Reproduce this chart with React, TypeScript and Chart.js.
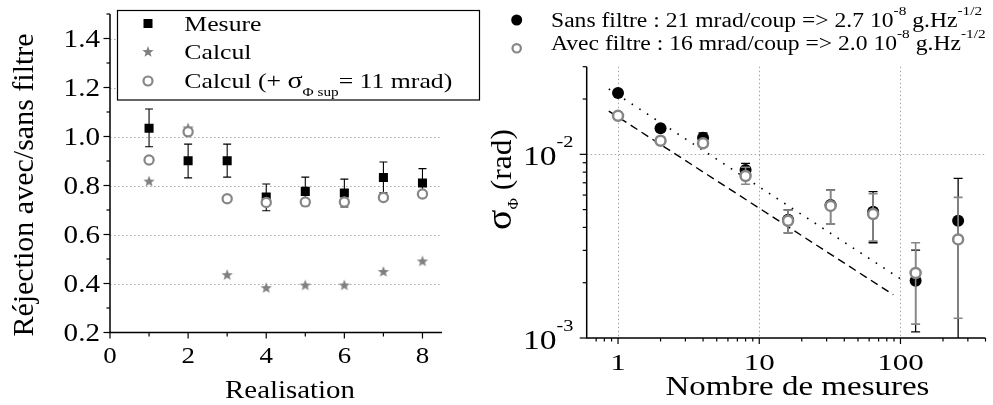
import React, { useEffect, useRef } from 'react';
import { Chart, registerables } from 'chart.js';
Chart.register(...registerables);

const FONT = '"Liberation Serif", "Times New Roman", serif';
const GRAY = '#868686';
const GRID = '#a6a6a6';

// ---------- Left panel data ----------
const realisation = [1, 2, 3, 4, 5, 6, 7, 8];
const mesure = [1.034, 0.901, 0.901, 0.753, 0.776, 0.769, 0.833, 0.81];
const mesureLow = [0.958, 0.831, 0.834, 0.697, 0.718, 0.712, 0.77, 0.751];
const mesureHigh = [1.112, 0.969, 0.969, 0.806, 0.834, 0.826, 0.896, 0.869];
const calcul = [0.816, 1.033, 0.434, 0.381, 0.392, 0.392, 0.447, 0.49];
const calculSup = [0.904, 1.019, 0.746, 0.731, 0.733, 0.733, 0.751, 0.765];
const leftYTicks = [0.2, 0.4, 0.6, 0.8, 1.0, 1.2, 1.4];
const leftYMinor = [0.3, 0.5, 0.7, 0.9, 1.1, 1.3, 1.5];
const leftYGrid = [0.4, 0.6, 0.8, 1.0, 1.2, 1.4];
const leftXTicks = [0, 2, 4, 6, 8];
const leftXMinor = [1, 3, 5, 7];

// ---------- Right panel data ----------
const nombre = [1, 2, 4, 8, 16, 32, 64, 128, 256];
const sansFiltre = [0.0216, 0.01386, 0.0123, 0.00822, 0.0044, 0.0053, 0.00487, 0.00205, 0.00435];
const sansLow = [null, null, 0.0119, 0.0077, 0.00374, 0.00418, 0.0033, 0.00108, 0.0008];
const sansHigh = [null, null, 0.0131, 0.00893, 0.00498, 0.0064, 0.00627, 0.00301, 0.0074];
const avecFiltre = [0.0162, 0.01186, 0.01148, 0.00762, 0.00435, 0.00524, 0.00473, 0.00226, 0.00344];
const avecLow = [null, null, null, 0.00687, 0.00374, 0.00418, 0.00337, 0.00119, 0.00128];
const avecHigh = [null, null, null, 0.0085, 0.00498, 0.0064, 0.0061, 0.0033, 0.00583];
const fitSansX = [0.86, 100];
const fitSansY = [0.0227, 0.0021];
const fitAvecX = [0.86, 89];
const fitAvecY = [0.0172, 0.00172];
const rightXMajor = [1, 10, 100];
const rightXLabels = ['1', '10', '100'];
const rightXMinor = [0.7, 0.8, 0.9, 2, 3, 4, 5, 6, 7, 8, 9, 20, 30, 40, 50, 60, 70, 80, 90, 200, 300, 400];
const rightYMajor = [0.001, 0.01];
const rightYExp = ['-3', '-2'];
const rightYMinor = [0.002, 0.003, 0.004, 0.005, 0.006, 0.007, 0.008, 0.009, 0.02, 0.03];
const rightXGrid = [1, 10, 100];
const rightYGrid = [0.01];

type Run = { t: string; size: number; dy?: number };

function drawText(
  ctx: CanvasRenderingContext2D,
  runs: Run[],
  x: number,
  y: number,
  opts: { align?: 'left' | 'center' | 'right'; sx?: number; rot?: boolean; color?: string } = {}
) {
  const sx = opts.sx ?? 1;
  const ws = runs.map((r) => {
    ctx.font = `${r.size}px ${FONT}`;
    return ctx.measureText(r.t).width;
  });
  const total = ws.reduce((a, b) => a + b, 0);
  ctx.save();
  ctx.translate(x, y);
  if (opts.rot) ctx.rotate(-Math.PI / 2);
  ctx.scale(sx, 1);
  let cx = opts.align === 'center' ? -total / 2 : opts.align === 'right' ? -total : 0;
  ctx.fillStyle = opts.color ?? '#000';
  ctx.textAlign = 'left';
  ctx.textBaseline = 'alphabetic';
  runs.forEach((r, i) => {
    ctx.font = `${r.size}px ${FONT}`;
    ctx.fillText(r.t, cx, r.dy ?? 0);
    cx += ws[i];
  });
  ctx.restore();
}

function drawErr(chart: any, xs: number[], lows: (number | null)[], highs: (number | null)[], color: string, cap: number, lw: number) {
  const { ctx, chartArea: a, scales } = chart;
  const xS = scales.x;
  const yS = scales.y;
  ctx.save();
  ctx.beginPath();
  ctx.rect(a.left, a.top - 30, a.right - a.left, a.bottom - a.top + 30);
  ctx.clip();
  ctx.strokeStyle = color;
  ctx.lineWidth = lw;
  xs.forEach((xv, i) => {
    const lo = lows[i];
    const hi = highs[i];
    if (lo == null || hi == null) return;
    const px = xS.getPixelForValue(xv);
    const yl = yS.getPixelForValue(lo);
    const yh = yS.getPixelForValue(hi);
    ctx.beginPath();
    ctx.moveTo(px, yl);
    ctx.lineTo(px, yh);
    ctx.moveTo(px - cap, yh);
    ctx.lineTo(px + cap, yh);
    ctx.moveTo(px - cap, yl);
    ctx.lineTo(px + cap, yl);
    ctx.stroke();
  });
  ctx.restore();
}

function makeStar(color: string, r: number): HTMLCanvasElement {
  const c = document.createElement('canvas');
  const s = Math.ceil(r * 2 + 2);
  c.width = s;
  c.height = s;
  const g = c.getContext('2d')!;
  g.fillStyle = color;
  g.beginPath();
  for (let i = 0; i < 10; i++) {
    const rr = i % 2 === 0 ? r : r * 0.42;
    const ang = -Math.PI / 2 + (i * Math.PI) / 5;
    const px = s / 2 + rr * Math.cos(ang);
    const py = s / 2 + rr * Math.sin(ang);
    if (i === 0) g.moveTo(px, py);
    else g.lineTo(px, py);
  }
  g.closePath();
  g.fill();
  return c;
}

function axisLines(ctx: CanvasRenderingContext2D, a: any) {
  ctx.save();
  ctx.strokeStyle = '#000';
  ctx.lineWidth = 1.5;
  ctx.beginPath();
  ctx.moveTo(a.left, a.top);
  ctx.lineTo(a.left, a.bottom);
  ctx.lineTo(a.right, a.bottom);
  ctx.stroke();
  ctx.restore();
}

function ticksY(ctx: CanvasRenderingContext2D, yS: any, a: any, vals: number[], len: number) {
  ctx.save();
  ctx.strokeStyle = '#000';
  ctx.lineWidth = 1.2;
  vals.forEach((v) => {
    const py = yS.getPixelForValue(v);
    ctx.beginPath();
    ctx.moveTo(a.left - len, py);
    ctx.lineTo(a.left, py);
    ctx.stroke();
  });
  ctx.restore();
}

function ticksX(ctx: CanvasRenderingContext2D, xS: any, a: any, vals: number[], len: number) {
  ctx.save();
  ctx.strokeStyle = '#000';
  ctx.lineWidth = 1.2;
  vals.forEach((v) => {
    const px = xS.getPixelForValue(v);
    ctx.beginPath();
    ctx.moveTo(px, a.bottom);
    ctx.lineTo(px, a.bottom + len);
    ctx.stroke();
  });
  ctx.restore();
}

function gridH(ctx: CanvasRenderingContext2D, yS: any, a: any, vals: number[]) {
  ctx.save();
  ctx.strokeStyle = GRID;
  ctx.lineWidth = 1;
  ctx.setLineDash([1.5, 2.5]);
  vals.forEach((v) => {
    const py = Math.round(yS.getPixelForValue(v)) + 0.5;
    ctx.beginPath();
    ctx.moveTo(a.left, py);
    ctx.lineTo(a.right, py);
    ctx.stroke();
  });
  ctx.restore();
}

function gridV(ctx: CanvasRenderingContext2D, xS: any, a: any, vals: number[]) {
  ctx.save();
  ctx.strokeStyle = GRID;
  ctx.lineWidth = 1;
  ctx.setLineDash([1.5, 2.5]);
  vals.forEach((v) => {
    const px = Math.round(xS.getPixelForValue(v)) + 0.5;
    ctx.beginPath();
    ctx.moveTo(px, a.top);
    ctx.lineTo(px, a.bottom);
    ctx.stroke();
  });
  ctx.restore();
}

export default function App() {
  const leftRef = useRef<HTMLCanvasElement>(null);
  const rightRef = useRef<HTMLCanvasElement>(null);

  useEffect(() => {
    const star = makeStar('#808080', 6);

    const leftPlugin = {
      id: 'leftDecor',
      beforeDatasetsDraw(chart: any) {
        gridH(chart.ctx, chart.scales.y, chart.chartArea, leftYGrid);
      },
      beforeDatasetDraw(chart: any, args: any) {
        if (args.index === 0) drawErr(chart, realisation, mesureLow, mesureHigh, '#000', 4, 1.1);
      },
      afterDraw(chart: any) {
        const { ctx, chartArea: a, scales } = chart;
        const xS = scales.x;
        const yS = scales.y;
        axisLines(ctx, a);
        ticksY(ctx, yS, a, leftYTicks, 6.5);
        ticksY(ctx, yS, a, leftYMinor, 3.5);
        ticksX(ctx, xS, a, leftXTicks, 6);
        ticksX(ctx, xS, a, leftXMinor, 4);
        leftYTicks.forEach((v) => {
          drawText(ctx, [{ t: v.toFixed(1), size: 26 }], 100, yS.getPixelForValue(v) + 8.8, { align: 'right', sx: 1.12 });
        });
        leftXTicks.forEach((v) => {
          drawText(ctx, [{ t: String(v), size: 24 }], xS.getPixelForValue(v), 362.7, { align: 'center', sx: 1.12 });
        });
        drawText(ctx, [{ t: 'Realisation', size: 26 }], 290, 397.5, { align: 'center', sx: 1.11 });
        drawText(ctx, [{ t: 'Réjection avec/sans filtre', size: 30 }], 33.3, 185, { align: 'center', rot: true });
        // legend box
        ctx.save();
        ctx.fillStyle = '#fff';
        ctx.fillRect(117.5, 10.5, 362, 89.5);
        ctx.strokeStyle = '#000';
        ctx.lineWidth = 1.2;
        ctx.strokeRect(117.5, 10.5, 362, 89.5);
        ctx.fillStyle = '#000';
        ctx.fillRect(148 - 4.5, 23.5 - 4.5, 9, 9);
        ctx.drawImage(star, 148 - star.width / 2, 52 - star.height / 2);
        ctx.beginPath();
        ctx.arc(148, 81, 4.5, 0, Math.PI * 2);
        ctx.fillStyle = '#fff';
        ctx.fill();
        ctx.strokeStyle = GRAY;
        ctx.lineWidth = 2.2;
        ctx.stroke();
        ctx.restore();
        drawText(ctx, [{ t: 'Mesure', size: 22 }], 184.3, 30.7, { sx: 1.17 });
        drawText(ctx, [{ t: 'Calcul', size: 22 }], 184.3, 59.3, { sx: 1.17 });
        drawText(
          ctx,
          [
            { t: 'Calcul (+ ', size: 22 },
            { t: 'σ', size: 24 },
            { t: 'Φ sup', size: 13, dy: 8 },
            { t: '= 11 mrad)', size: 22 },
          ],
          184.3,
          88,
          { sx: 1.17 }
        );
      },
    };

    const rightPlugin = {
      id: 'rightDecor',
      beforeDatasetsDraw(chart: any) {
        gridV(chart.ctx, chart.scales.x, chart.chartArea, rightXGrid);
        gridH(chart.ctx, chart.scales.y, chart.chartArea, rightYGrid);
      },
      beforeDatasetDraw(chart: any, args: any) {
        if (args.index === 0) drawErr(chart, nombre, sansLow, sansHigh, '#000', 4.5, 1.3);
        if (args.index === 1) drawErr(chart, nombre, avecLow, avecHigh, GRAY, 4.5, 1.6);
      },
      afterDraw(chart: any) {
        const { ctx, chartArea: a, scales } = chart;
        const xS = scales.x;
        const yS = scales.y;
        axisLines(ctx, a);
        ticksY(ctx, yS, a, rightYMajor, 7);
        ticksY(ctx, yS, a, rightYMinor, 4);
        ticksX(ctx, xS, a, rightXMajor, 6);
        ticksX(ctx, xS, a, rightXMinor, 3.5);
        rightXMajor.forEach((v, i) => {
          drawText(ctx, [{ t: rightXLabels[i], size: 23 }], xS.getPixelForValue(v), 369.5, { align: 'center', sx: 1.35 });
        });
        rightYMajor.forEach((v, i) => {
          drawText(
            ctx,
            [
              { t: '10', size: 28 },
              { t: rightYExp[i], size: 17, dy: -18 },
            ],
            83.5,
            yS.getPixelForValue(v) + 10.5,
            { align: 'right', sx: 1.2 }
          );
        });
        drawText(ctx, [{ t: 'Nombre de mesures', size: 27.5 }], 307.5, 395, { align: 'center', sx: 1.2 });
        drawText(
          ctx,
          [
            { t: 'σ', size: 36 },
            { t: 'Φ', size: 15, dy: 7 },
            { t: ' (rad)', size: 30 },
          ],
          21,
          230,
          { align: 'left', rot: true, sx: 1.05 }
        );
        // legend
        ctx.save();
        ctx.beginPath();
        ctx.arc(26.7, 20, 5.5, 0, Math.PI * 2);
        ctx.fillStyle = '#000';
        ctx.fill();
        ctx.beginPath();
        ctx.arc(26.7, 48.3, 4.2, 0, Math.PI * 2);
        ctx.fillStyle = '#fff';
        ctx.fill();
        ctx.strokeStyle = GRAY;
        ctx.lineWidth = 2.2;
        ctx.stroke();
        ctx.restore();
        drawText(
          ctx,
          [
            { t: 'Sans filtre : 21 mrad/coup => 2.7 10', size: 20 },
            { t: '-8', size: 13, dy: -12 },
            { t: ' g.Hz', size: 20 },
            { t: '-1/2', size: 13, dy: -12 },
          ],
          61,
          26.7,
          { sx: 1.18 }
        );
        drawText(
          ctx,
          [
            { t: 'Avec filtre : 16 mrad/coup => 2.0 10', size: 20 },
            { t: '-8', size: 13, dy: -12 },
            { t: ' g.Hz', size: 20 },
            { t: '-1/2', size: 13, dy: -12 },
          ],
          61,
          50.3,
          { sx: 1.18 }
        );
      },
    };

    const left = new Chart(leftRef.current!, {
      type: 'scatter',
      data: {
        datasets: [
          {
            label: 'Mesure',
            data: realisation.map((x, i) => ({ x, y: mesure[i] })),
            pointStyle: 'rect',
            pointRadius: 6.4,
            backgroundColor: '#000',
            borderWidth: 0,
            order: 3,
          },
          {
            label: 'Calcul',
            data: realisation.map((x, i) => ({ x, y: calcul[i] })),
            pointStyle: star,
            pointRadius: 6,
            order: 2,
          },
          {
            label: 'Calcul (+ σΦ sup = 11 mrad)',
            data: realisation.map((x, i) => ({ x, y: calculSup[i] })),
            pointStyle: 'circle',
            pointRadius: 4.6,
            borderWidth: 2.2,
            borderColor: GRAY,
            backgroundColor: '#fff',
            order: 1,
          },
        ],
      },
      options: {
        animation: false,
        responsive: false,
        maintainAspectRatio: false,
        devicePixelRatio: 1,
        events: [],
        layout: { padding: { left: 110, right: 48, top: 14, bottom: 72.5 } },
        plugins: { legend: { display: false }, tooltip: { enabled: false } },
        scales: {
          x: { type: 'linear', min: 0, max: 8.5, display: false },
          y: { type: 'linear', min: 0.2, max: 1.5, display: false },
        },
      },
      plugins: [leftPlugin],
    } as any);

    const right = new Chart(rightRef.current!, {
      type: 'scatter',
      data: {
        datasets: [
          {
            label: 'Sans filtre',
            data: nombre.map((x, i) => ({ x, y: sansFiltre[i] })),
            pointStyle: 'circle',
            pointRadius: 6,
            backgroundColor: '#000',
            borderWidth: 0,
            order: 2,
          },
          {
            label: 'Avec filtre',
            data: nombre.map((x, i) => ({ x, y: avecFiltre[i] })),
            pointStyle: 'circle',
            pointRadius: 5,
            borderWidth: 2.5,
            borderColor: GRAY,
            backgroundColor: '#fff',
            order: 1,
          },
          {
            label: 'fit sans',
            data: fitSansX.map((x, i) => ({ x, y: fitSansY[i] })),
            showLine: true,
            pointRadius: 0,
            borderColor: '#000',
            borderWidth: 1.6,
            borderDash: [1.6, 7.5],
            order: 5,
          },
          {
            label: 'fit avec',
            data: fitAvecX.map((x, i) => ({ x, y: fitAvecY[i] })),
            showLine: true,
            pointRadius: 0,
            borderColor: '#000',
            borderWidth: 1.4,
            borderDash: [8, 5],
            order: 4,
          },
        ],
      },
      options: {
        animation: false,
        responsive: false,
        maintainAspectRatio: false,
        devicePixelRatio: 1,
        events: [],
        layout: { padding: { left: 96.7, right: 7, top: 66.7, bottom: 67 } },
        plugins: { legend: { display: false }, tooltip: { enabled: false } },
        scales: {
          x: { type: 'logarithmic', min: 0.6, max: 400, display: false },
          y: { type: 'logarithmic', min: 0.001, max: 0.03, display: false },
        },
      },
      plugins: [rightPlugin],
    } as any);

    return () => {
      left.destroy();
      right.destroy();
    };
  }, []);

  return (
    <div style={{ position: 'fixed', left: 0, top: 0, width: 993, height: 405, background: '#fff' }}>
      <canvas
        ref={leftRef}
        width={490}
        height={405}
        style={{ position: 'absolute', left: 0, top: 0, width: 490, height: 405 }}
      />
      <canvas
        ref={rightRef}
        width={503}
        height={405}
        style={{ position: 'absolute', left: 490, top: 0, width: 503, height: 405 }}
      />
    </div>
  );
}
